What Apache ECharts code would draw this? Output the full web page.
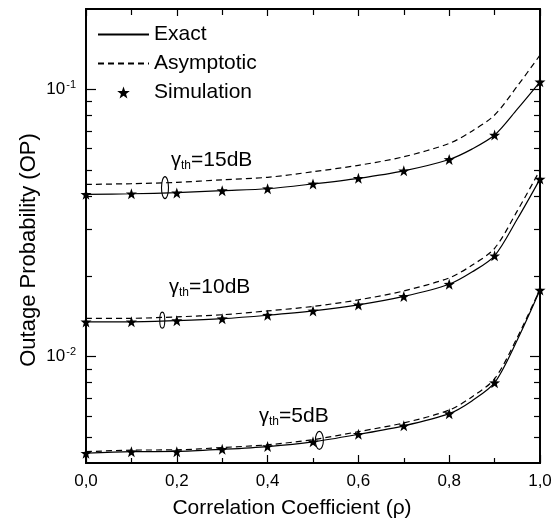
<!DOCTYPE html>
<html>
<head>
<meta charset="utf-8">
<script src="https://cdn.jsdelivr.net/npm/echarts@6/dist/echarts.min.js"></script>
<style>
  html, body { margin: 0; padding: 0; background: #fff; }
  #chart { width: 560px; height: 523px; }
</style>
</head>
<body>
<div id="chart"></div>
<script>
// x values
const rho = [0, 0.1, 0.2, 0.3, 0.4, 0.5, 0.6, 0.7, 0.8, 0.9, 1.0]
const rhoLine = [0, 0.1, 0.2, 0.3, 0.4, 0.5, 0.6, 0.7, 0.8, 0.85, 0.9, 0.95, 1.0]

// exact (solid) curves, read at rhoLine
const exact15 = [0.0405, 0.0407, 0.0411, 0.0418, 0.0425, 0.0443, 0.0465, 0.0496, 0.0547, 0.0598, 0.0675, 0.0844, 0.1068]
const exact10 = [0.01349, 0.0135, 0.01364, 0.01387, 0.01429, 0.01483, 0.01562, 0.0168, 0.01867, 0.02073, 0.02385, 0.03273, 0.04618]
const exact5 = [0.00435, 0.00441, 0.00442, 0.0045, 0.00461, 0.0048, 0.00512, 0.00551, 0.00612, 0.00683, 0.00799, 0.01155, 0.01775]

// asymptotic (dashed) curves, read at rhoLine
const asym15 = [0.0441, 0.0444, 0.0449, 0.0459, 0.0469, 0.0492, 0.052, 0.056, 0.0628, 0.0698, 0.0802, 0.1029, 0.1344]
const asym10 = [0.01391, 0.01392, 0.01409, 0.01435, 0.01483, 0.01542, 0.01631, 0.01762, 0.01971, 0.02197, 0.02544, 0.03512, 0.04992]
const asym5 = [0.00441, 0.00447, 0.00448, 0.00457, 0.00468, 0.00489, 0.00524, 0.00565, 0.00631, 0.00707, 0.00827, 0.0118, 0.0179]

// simulation (stars), read at rho
const sim15 = [0.0405, 0.0407, 0.041, 0.0418, 0.0425, 0.0443, 0.0465, 0.0496, 0.0547, 0.0675, 0.1068]
const sim10 = [0.01349, 0.0135, 0.01364, 0.01387, 0.01429, 0.01483, 0.01562, 0.0168, 0.01867, 0.02385, 0.04618]
const sim5 = [0.00435, 0.00441, 0.00441, 0.0045, 0.00461, 0.0048, 0.00512, 0.00551, 0.00612, 0.00799, 0.01775]

// y ticks
const yLabelTicks = [0.01, 0.1]
const yMinorTicks = [0.005, 0.006, 0.007, 0.008, 0.009, 0.02, 0.03, 0.04, 0.05, 0.06, 0.07, 0.08, 0.09]

const FONT = '"Liberation Sans", Arial, sans-serif'
const STAR = 'path://M0,-10L2.35,-3.24L9.51,-3.09L3.8,1.24L5.88,8.09L0,4L-5.88,8.09L-3.8,1.24L-9.51,-3.09L-2.35,-3.24Z'

const pairs = (xs, ys) => xs.map((x, i) => [x, ys[i]])

const lineSeries = (name, data, dashed) => ({
  name,
  type: 'line',
  data: pairs(rhoLine, data),
  smooth: 0.3,
  symbol: 'none',
  xAxisIndex: 0,
  yAxisIndex: 0,
  lineStyle: { color: '#000', width: 1.2, type: dashed ? [6, 4] : 'solid' },
  itemStyle: { color: '#000' },
  z: 2,
})

const simSeries = data => ({
  name: 'Simulation',
  type: 'scatter',
  data: pairs(rho, data),
  symbol: STAR,
  symbolSize: 11,
  xAxisIndex: 0,
  yAxisIndex: 0,
  itemStyle: { color: '#000', opacity: 1 },
  z: 3,
})

const axisBase = {
  axisLine: { show: true, onZero: false, lineStyle: { color: '#000', width: 1.8 } },
  splitLine: { show: false },
}

const yAxisBase = (position, ticks, len, labels) => ({
  ...axisBase,
  type: 'log',
  logBase: 10,
  min: 0.004,
  max: 0.2,
  position,
  axisTick: { show: true, inside: true, length: len, customValues: ticks, lineStyle: { color: '#000', width: 1.2 } },
  axisLabel: labels ? {
    show: true,
    customValues: yLabelTicks,
    margin: 10,
    formatter: v => '{b|10}{s|' + Math.round(Math.log10(v)) + '}',
    rich: {
      b: { fontSize: 17, fontFamily: FONT, color: '#000' },
      s: { fontSize: 11, fontFamily: FONT, color: '#000', padding: [0, 0, 9, 1] },
    },
  } : { show: false },
})

const option = {
  animation: false,
  backgroundColor: '#fff',
  grid: { left: 86, right: 20, top: 9, bottom: 60 },
  legend: {
    data: [
      { name: 'Exact', itemStyle: { opacity: 0 } },
      { name: 'Asymptotic', itemStyle: { opacity: 0 } },
      'Simulation',
    ],
    orient: 'vertical',
    left: 97,
    top: 24,
    padding: 0,
    itemWidth: 51,
    itemHeight: 12,
    itemGap: 8,
    symbolKeepAspect: true,
    textStyle: { fontSize: 21, fontFamily: FONT, color: '#000' },
  },
  xAxis: [
    {
      ...axisBase,
      type: 'value',
      min: 0,
      max: 1,
      interval: 0.2,
      position: 'bottom',
      axisTick: { inside: true, length: 8, lineStyle: { color: '#000', width: 1.2 } },
      minorTick: { show: true, splitNumber: 2, length: 5, lineStyle: { color: '#000', width: 1.2 } },
      axisLabel: {
        margin: 10,
        fontSize: 17,
        fontFamily: FONT,
        color: '#000',
        formatter: v => v.toFixed(1).replace('.', ','),
      },
    },
    {
      ...axisBase,
      type: 'value',
      min: 0,
      max: 1,
      interval: 0.2,
      position: 'top',
      axisTick: { inside: true, length: 7, lineStyle: { color: '#000', width: 1.2 } },
      minorTick: { show: true, splitNumber: 2, length: 6, lineStyle: { color: '#000', width: 1.2 } },
      axisLabel: { show: false },
    },
  ],
  yAxis: [
    yAxisBase('left', yLabelTicks, 10, true),
    yAxisBase('left', yMinorTicks, 6, false),
    yAxisBase('right', yLabelTicks, 10, false),
    yAxisBase('right', yMinorTicks, 6, false),
  ],
  series: [
    lineSeries('Exact', exact15, false),
    lineSeries('Exact', exact10, false),
    lineSeries('Exact', exact5, false),
    lineSeries('Asymptotic', asym15, true),
    lineSeries('Asymptotic', asym10, true),
    lineSeries('Asymptotic', asym5, true),
    simSeries(sim15),
    simSeries(sim10),
    simSeries(sim5),
  ],
}

const chart = echarts.init(document.getElementById('chart'), null, { renderer: 'canvas' })
chart.setOption(option)

// annotation ellipses: [rho, value, rx, ry]
const ellipses = [
  [0.174, 0.0429, 3.5, 11],
  [0.168, 0.0137, 2.5, 8],
  [0.514, 0.00486, 4, 9],
]
// annotation labels: [text, x, y]
const gammaLabels = [
  ['15dB', 171, 160],
  ['10dB', 169, 287],
  ['5dB', 259, 416],
]

const graphic = []
ellipses.forEach(([x, y, rx, ry]) => {
  const p = chart.convertToPixel({ seriesIndex: 0 }, [x, y])
  graphic.push({
    type: 'ellipse',
    shape: { cx: p[0], cy: p[1], rx, ry },
    style: { fill: 'none', stroke: '#000', lineWidth: 1.1 },
    z: 10,
  })
})
gammaLabels.forEach(([t, x, y]) => {
  graphic.push({
    type: 'text',
    x,
    y,
    style: {
      text: '{g|γ}{t|th}{n|=' + t + '}',
      verticalAlign: 'middle',
      rich: {
        g: { fontSize: 20, fontFamily: FONT, fill: '#000' },
        t: { fontSize: 12, fontFamily: FONT, fill: '#000', padding: [12, 0, 0, 0] },
        n: { fontSize: 21, fontFamily: FONT, fill: '#000' },
      },
    },
    z: 10,
  })
})
graphic.push({
  type: 'text',
  x: 292,
  y: 508,
  style: { text: 'Correlation Coefficient (ρ)', fontSize: 21, fontFamily: FONT, fill: '#000', align: 'center', verticalAlign: 'middle' },
})
graphic.push({
  type: 'text',
  x: 29,
  y: 250,
  rotation: Math.PI / 2,
  style: { text: 'Outage Probability (OP)', fontSize: 22, fontFamily: FONT, fill: '#000', align: 'center', verticalAlign: 'middle' },
})
chart.setOption({ graphic })
</script>
</body>
</html>
